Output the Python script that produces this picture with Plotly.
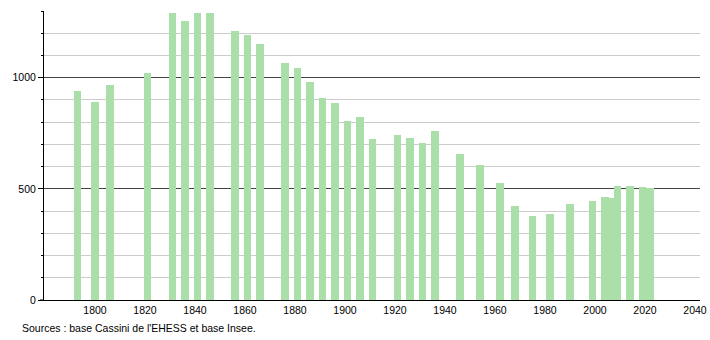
import plotly.graph_objects as go

years = [1793, 1800, 1806, 1821, 1831, 1836, 1841, 1846, 1856, 1861, 1866,
         1876, 1881, 1886, 1891, 1896, 1901, 1906, 1911, 1921, 1926, 1931,
         1936, 1946, 1954, 1962, 1968, 1975, 1982, 1990, 1999, 2004, 2006,
         2009, 2014, 2019, 2022]
population = [940, 889, 965, 1021, 1290, 1254, 1290, 1290, 1208, 1190, 1153,
              1066, 1045, 980, 908, 886, 805, 823, 723, 741, 729, 706,
              759, 656, 608, 527, 422, 377, 388, 434, 446, 463, 460,
              512, 512, 509, 505]
x_ticks = [1800, 1820, 1840, 1860, 1880, 1900, 1920, 1940, 1960, 1980, 2000, 2020, 2040]
y_ticks = [0, 500, 1000]
source_text = "Sources : base Cassini de l'EHESS et base Insee."

BAR_COLOR = "#aadfaa"
FONT = "Liberation Sans, Arial, sans-serif"
FS = 10.5

fig = go.Figure()
fig.add_trace(go.Bar(
    x=years, y=population, width=3.1,
    marker=dict(color=BAR_COLOR, line=dict(width=0)),
    hoverinfo="x+y",
))

W, H = 710, 340
ml, mr, mt, mb = 44, 10, 11, 40
pw = W - ml - mr
ph = H - mt - mb

fig.update_layout(
    width=W, height=H,
    margin=dict(l=ml, r=mr, t=mt, b=mb, pad=0, autoexpand=False),
    paper_bgcolor="white", plot_bgcolor="white",
    showlegend=False,
    font=dict(family=FONT, size=FS, color="#000"),
    bargap=0,
    xaxis=dict(
        range=[1779.6, 2042], tickvals=x_ticks, ticktext=[str(v) for v in x_ticks],
        showgrid=False, zeroline=False, showline=True, linecolor="#000", linewidth=1,
        ticks="", ticklen=0, tickfont=dict(family=FONT, size=FS, color="#000"),
        automargin=False, fixedrange=True,
    ),
    yaxis=dict(
        range=[0, 1300], tickvals=y_ticks, ticktext=[str(v) for v in y_ticks],
        showgrid=True, gridcolor="#444", gridwidth=1,
        zeroline=False, showline=True, linecolor="#000", linewidth=1,
        ticks="outside", ticklen=5, tickcolor="#000", tickwidth=1,
        tickfont=dict(family=FONT, size=FS, color="#000"),
        minor=dict(dtick=100, tick0=0, showgrid=True, gridcolor="#cccccc", gridwidth=1,
                   ticks="outside", ticklen=2, tickcolor="#000"),
        automargin=False, fixedrange=True,
    ),
)

# extend the x axis line a few pixels left of the y axis
fig.add_shape(type="line", xref="paper", yref="paper",
              x0=-4 / pw, x1=0, y0=0, y1=0, line=dict(color="#000", width=1))

fig.add_annotation(
    text=source_text, xref="paper", yref="paper",
    x=(20 - ml) / pw, y=-(328 - (mt + ph)) / ph,
    xanchor="left", yanchor="middle", showarrow=False,
    font=dict(family=FONT, size=FS, color="#000"),
)

fig.write_html("out.html")
